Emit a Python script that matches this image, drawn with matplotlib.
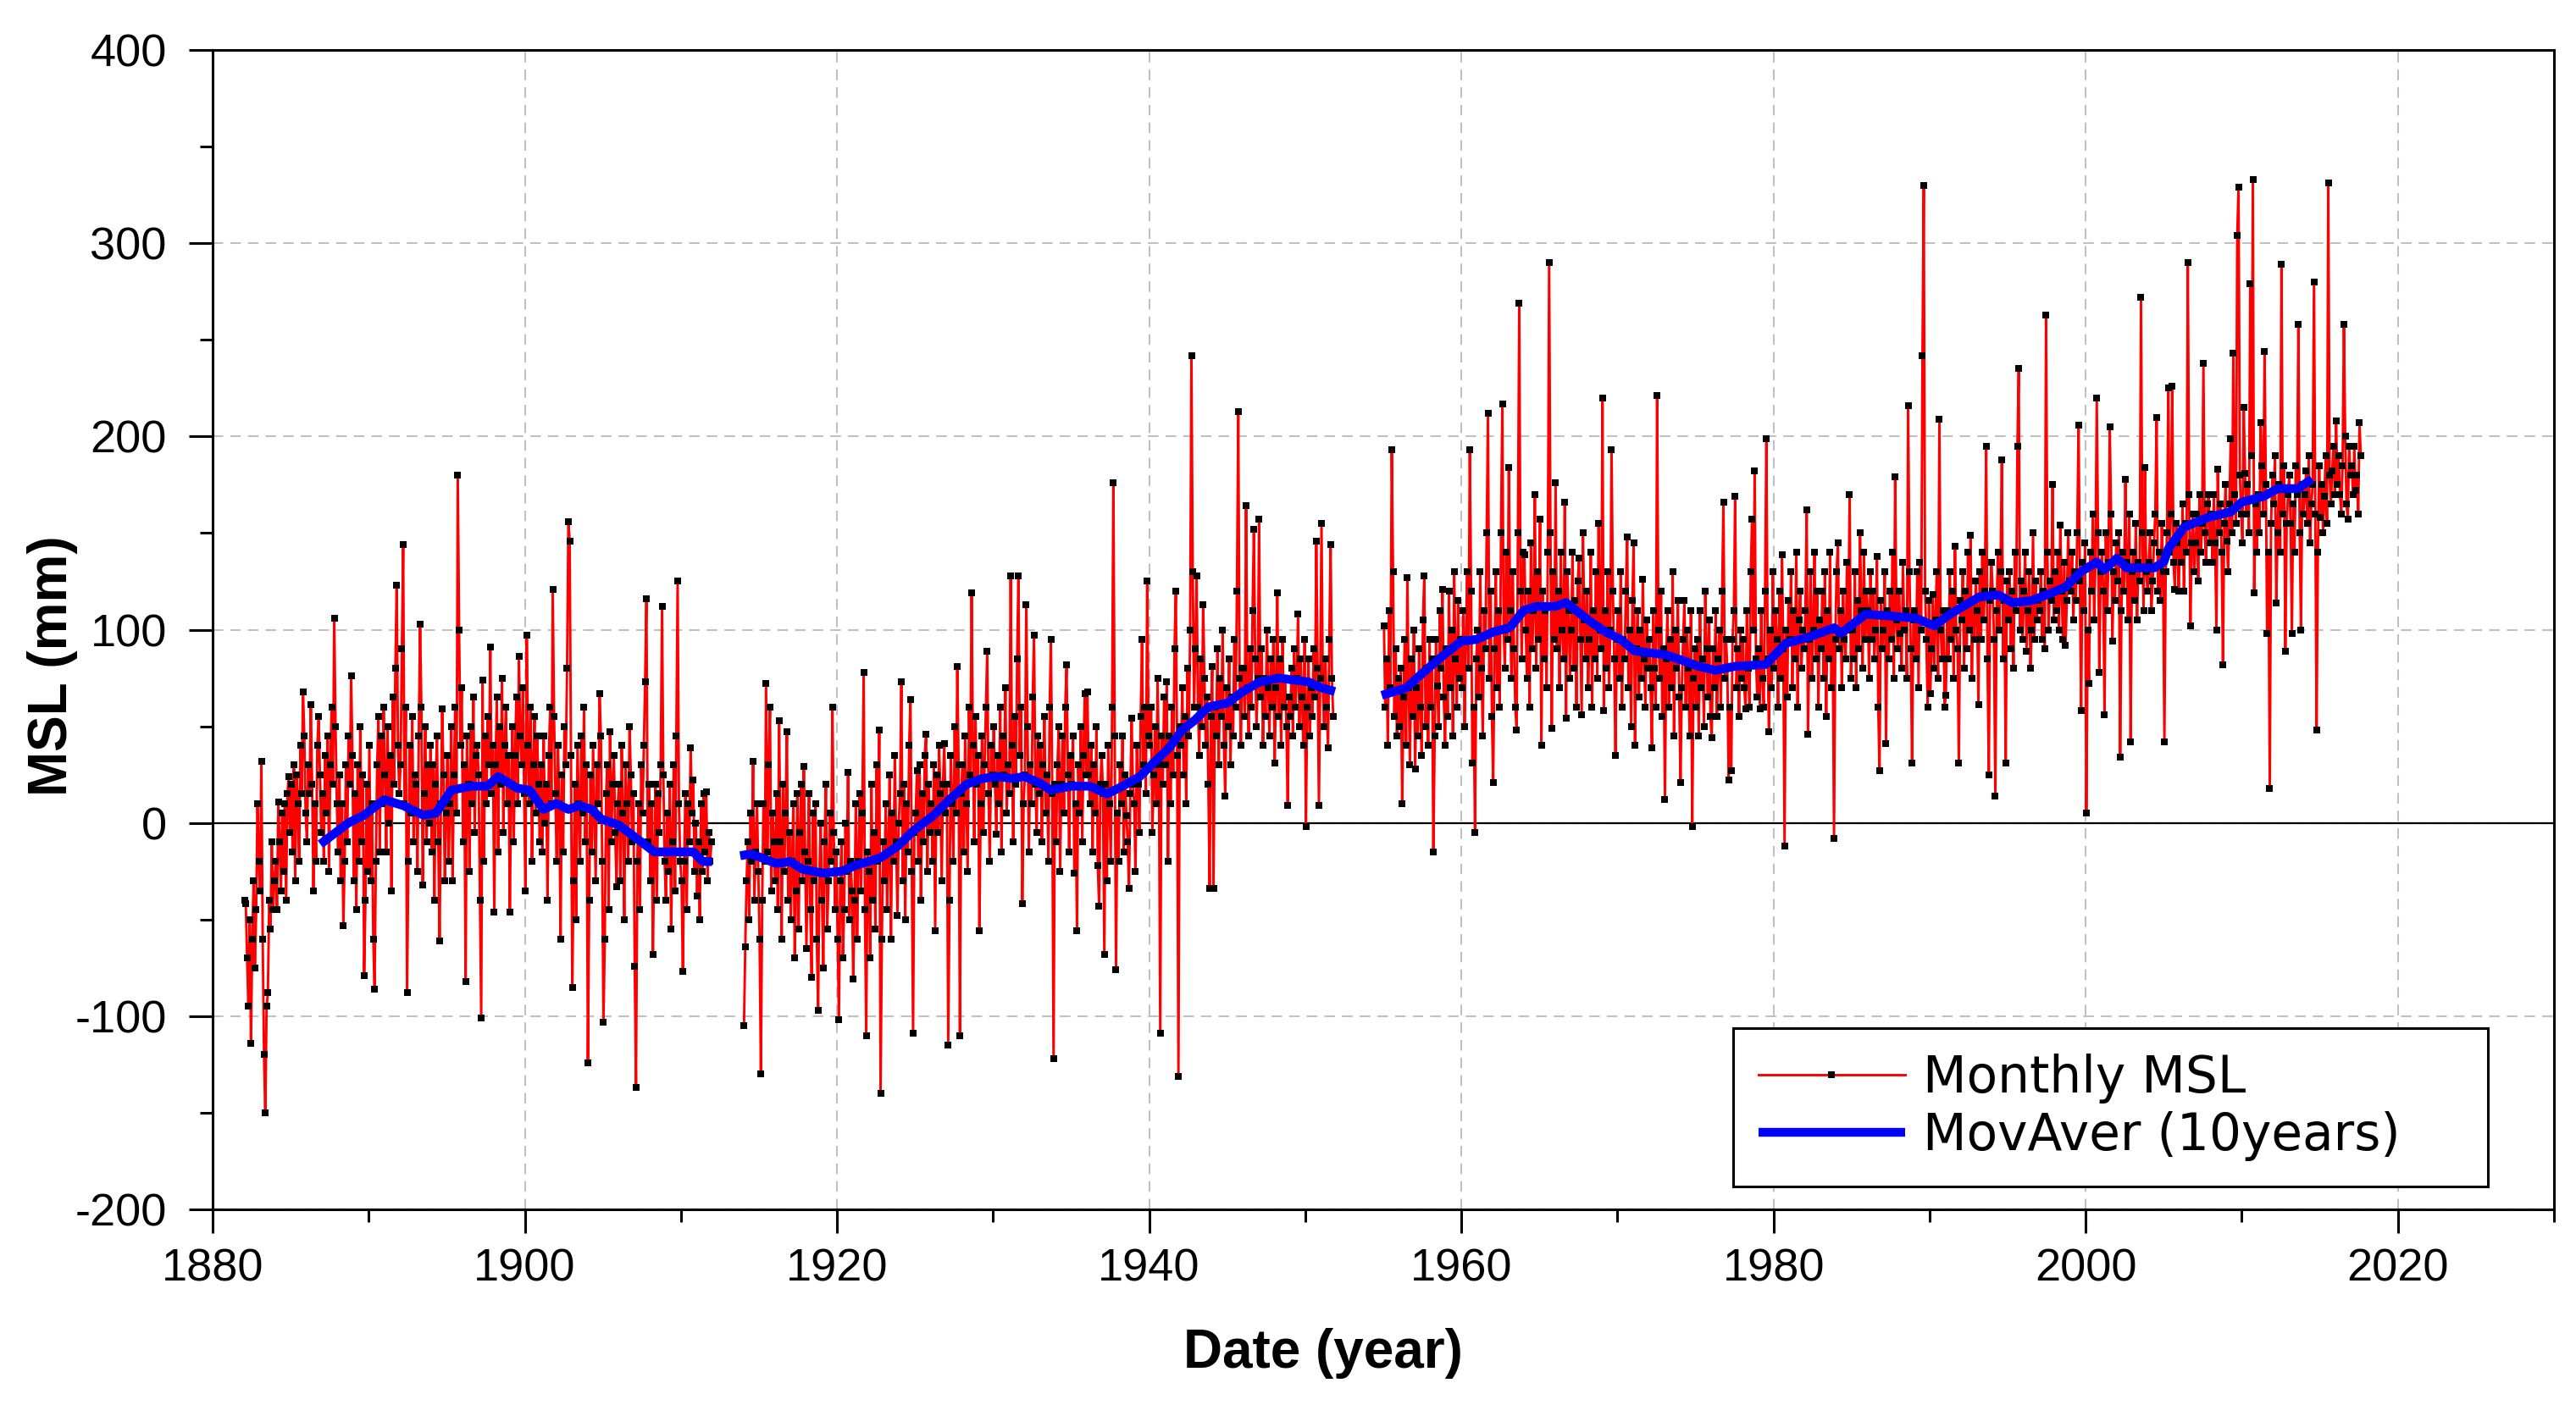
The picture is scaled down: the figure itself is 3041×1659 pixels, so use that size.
import numpy as np
import matplotlib
matplotlib.use("Agg")
import matplotlib.pyplot as plt
from matplotlib.ticker import MultipleLocator

plt.rcParams['font.family'] = ['Liberation Sans', 'DejaVu Sans']
plt.rcParams['axes.unicode_minus'] = False

# monthly mean sea level (mm), one row per year
start_a = 1882
msl_a = [
    -40, -42, -70, -95, -50, -114, -60, -30, -75, -45, 10, -20,   # 1882
    -35, 32, -60, -120, -150, -95, -88, -40, -55, -10, -45, -30,  # 1883
    -20, -45, 11, -10, -35, 5, -25, 10, -40, 15, 24, -5,          # 1884
    20, -15, 30, -30, 25, 10, -20, 40, 15, 68, 45, 5,             # 1885
    -10, 30, 15, 61, 20, -35, 10, -20, 40, 55, 25, -5,            # 1886
    15, -20, 35, 5, 45, -25, 30, 60, 20, 106, 50, 10,             # 1887
    -15, 25, -30, 10, -53, -20, 30, -10, 45, 20, 76, 35,          # 1888
    -30, 15, -45, 30, -20, 50, -10, 25, -79, -40, 20, -25,        # 1889
    40, -30, 10, -60, -86, -20, 30, 55, -15, 45, 10, 60,          # 1890
    25, -15, 50, 0, 35, -35, 65, 20, 80, 123, 40, 15,             # 1891
    30, 90, 144, 10, 60, -88, -20, 40, 5, 55, -10, 25,            # 1892
    20, -25, 45, 103, 60, -32, 15, 50, -10, 30, 0, 40,            # 1893
    -15, 30, -40, 20, 45, -10, -61, 10, 59, 25, -30, 5,           # 1894
    35, -20, 10, 50, -30, 25, 60, 5, 180, 100, 40, 70,            # 1895
    -10, 30, -82, 45, 20, -25, 50, 10, 65, -5, 35, 40,            # 1896
    25, -40, -101, 74, -20, 45, 10, 55, 30, 91, 15, 40,           # 1897
    -46, 30, 65, -15, 50, 20, 75, -5, 40, 60, 10, 35,             # 1898
    -46, 20, 50, -10, 35, 65, 10, 86, 45, 30, 70, 15,             # 1899
    -35, 97, 40, 10, 60, -20, 30, 55, 5, 45, 20, -10,             # 1900
    30, -15, 45, 0, 20, -40, 35, 60, 10, 121, 55, 15,             # 1901
    -20, 40, 10, -60, 25, -15, 50, 30, 80, 156, 146, 35,          # 1902
    -85, -30, 20, -50, 40, 10, -20, 45, 5, 60, -10, 30,           # 1903
    -124, -40, 25, -15, 40, 5, -30, 30, 10, 67, 45, -20,          # 1904
    -103, -60, 15, 30, -45, 47, -10, 20, 35, -5, -33, 10,         # 1905
    20, -30, 40, 5, -50, 30, 10, -20, 50, 25, -10, 15,            # 1906
    -74, -137, -20, 10, -45, 30, 5, 40, 73, 116, -10, 20,         # 1907
    -30, 10, -68, -15, 20, -40, 15, -5, 30, 112, 25, -20,         # 1908
    -40, 5, -25, 20, -55, -10, 30, -35, 45, 125, 10, -20,         # 1909
    -30, -77, -20, 15, -45, 10, -10, 39, 5, 22, -25, 0,           # 1910
    -38, -10, -50, 10, -25, 15, -15, 16, -30, -5, -20, -10,       # 1911
]

start_b = 1914
msl_b = [
    -105, -64, -30, -10, -50, 5, -20, 32, -40, -15, 10, -25,      # 1914
    -60, -130, -40, 10, -20, 72, -15, 30, 60, -35, 5, -10,        # 1915
    -30, 15, -45, 53, -10, -60, 20, -25, 5, 47, -40, -5,          # 1916
    -50, -20, 10, -70, -35, 15, -55, -5, 20, -30, 29, -15,        # 1917
    -65, -20, 15, -45, -80, 5, -30, 10, -60, -97, -25, 0,         # 1918
    -40, -75, -10, 20, -55, -30, 5, -20, 60, -5, -45, -15,        # 1919
    -60, -102, -30, -10, -70, -45, 0, -25, 26, -50, -20, -35,     # 1920
    -81, -40, 10, -60, -20, 15, -35, 5, 78, -45, -110, -15,       # 1921
    -25, -70, 20, -40, -5, -55, 30, -20, 48, -140, -60, -10,      # 1922
    -30, 10, -45, -15, 25, -60, 5, -20, 35, -10, -48, 0,          # 1923
    15, 73, -30, 20, -50, 10, -15, 40, 64, -25, -109, -5,         # 1924
    5, 27, -20, 30, -40, 15, -10, 35, 46, -25, 20, -5,            # 1925
    10, -20, 30, -56, 25, -5, 40, 15, -30, 20, 41, 5,             # 1926
    20, -115, -40, 35, 10, -20, 50, 5, 81, 30, -110, 15,          # 1927
    30, -15, 45, 10, -25, 60, 25, 119, 40, -10, 55, 20,           # 1928
    35, -56, 10, 45, -5, 30, 60, 89, 15, -20, 40, 25,             # 1929
    50, 20, -6, 35, 10, 60, -15, 45, 25, 70, 5, 30,               # 1930
    15, 128, 40, -10, 55, 20, 85, 128, 35, 60, -42, 10,           # 1931
    25, 113, 50, -15, 30, 10, 65, 97, 20, -5, 45, 15,             # 1932
    40, -10, 30, 55, 5, 25, -20, 60, 95, 15, -122, 20,            # 1933
    -10, 30, 50, -25, 20, 45, 5, 60, 82, 25, -15, 35,             # 1934
    20, 45, -26, 10, -56, 30, 5, 50, -10, 35, 67, 25,             # 1935
    68, 25, 10, 40, -15, 30, 5, 50, -22, -43, 20, 35,             # 1936
    15, -68, 20, -30, 40, 10, -20, 60, 176, 45, -76, 5,           # 1937
    -20, 30, 10, 45, -15, 25, 4, -10, -34, 15, 54, 20,            # 1938
    10, -25, 40, 20, -5, 55, 95, 30, 60, 15, 125, 45,             # 1939
    40, 60, -5, 25, 50, 10, 75, 30, -109, 45, 20, 65,             # 1940
    30, 73, -20, 45, 10, 60, 25, 90, 120, 35, -131, 50,           # 1941
    40, 70, 25, 55, 10, 80, 45, 100, 242, 130, 60, 90,            # 1942
    128, 60, 35, 85, 50, 113, 75, 40, 65, 20, -34, 55,            # 1943
    81, -34, 60, 45, 90, 30, 75, 55, 100, 40, 14, 70,             # 1944
    50, 85, 30, 65, 45, 95, 60, 120, 213, 75, 40, 80,             # 1945
    80, 55, 164, 70, 45, 90, 60, 110, 152, 85, 50, 75,            # 1946
    157, 65, 90, 40, 75, 55, 100, 70, 45, 85, 60, 95,             # 1947
    31, 70, 119, 55, 85, 40, 95, 60, 75, 50, 9, 65,               # 1948
    55, 80, 45, 90, 60, 75, 108, 50, 85, 65, 40, 95,              # 1949
    -2, 60, 85, 45, 70, 55, 90, 65, 146, 80, 9, 75,               # 1950
    155, 70, 50, 85, 60, 39, 95, 144, 75, 55,                     # 1951
]

start_c = 1955
msl_c = [
    102, 60, 85, 40, 110, 70, 193, 130, 55, 90, 45, 75,           # 1955
    50, 80, 10, 65, 95, 40, 127, 70, 30, 85, 55, 100,             # 1956
    28, 70, 45, 90, 60, 35, 105, 128, 50, 80, 40, 95,             # 1957
    60, 85, -15, 45, 95, 71, 50, 110, 80, 121, 65, 40,            # 1958
    90, 55, 120, 70, 100, 45, 130, 85, 60, 115, 75, 95,           # 1959
    70, 110, 50, 95, 130, 80, 193, 120, 31, 60, -5, 85,           # 1960
    100, 65, 130, 80, 45, 110, 90, 150, 212, 75, 120, 55,         # 1961
    21, 90, 130, 70, 110, 60, 150, 217, 100, 80, 140, 95,         # 1962
    184, 110, 75, 130, 90, 60, 48, 150, 269, 120, 85, 140,        # 1963
    139, 100, 75, 120, 60, 145, 90, 110, 170, 80, 130, 95,        # 1964
    157, 40, 120, 85, 110, 70, 140, 290, 150, 49, 130, 95,        # 1965
    176, 90, 120, 70, 140, 100, 85, 166, 54, 130, 110, 75,        # 1966
    100, 140, 80, 115, 60, 125, 137, 95, 56, 150, 105, 85,        # 1967
    120, 70, 95, 140, 60, 110, 85, 130, 75, 155, 100, 90,         # 1968
    220, 58, 110, 80, 130, 70, 100, 193, 120, 85, 35, 95,         # 1969
    110, 75, 130, 60, 95, 85, 120, 148, 70, 100, 50, 115,         # 1970
    145, 40, 90, 110, 65, 100, 75, 126, 85, 60, 105, 80,          # 1971
    95, 70, 39, 110, 80, 60, 221, 100, 75, 120, 55, 90,           # 1972
    12, 85, 110, 60, 95, 70, 130, 45, 100, 80, 115, 65,           # 1973
    21, 70, 95, 115, 60, 100, 80, 45, 110, -2, 75, 90,            # 1974
    60, 95, 45, 110, 70, 85, 50, 120, 90, 65, 105, 55,            # 1975
    44, 90, 70, 110, 55, 85, 100, 60, 120, 166, 75, 95,           # 1976
    80, 22, 60, 27, 95, 110, 169, 70, 90, 55, 100, 75,            # 1977
    95, 70, 59, 110, 80, 60, 130, 157, 100, 182, 85, 65,          # 1978
    90, 59, 110, 75, 60, 120, 199, 85, 47, 100, 70, 130,          # 1979
    80, 110, 95, 60, 120, 75, 139, 90, -12, 100, 65, 115,         # 1980
    95, 130, 70, 110, 85, 140, 60, 105, 120, 80, 100, 90,         # 1981
    110, 162, 46, 95, 130, 75, 100, 140, 85, 120, 60, 105,        # 1982
    90, 120, 75, 130, 55, 110, 85, 140, 70, 100, -8, 95,          # 1983
    130, 145, 90, 110, 70, 120, 95, 85, 135, 100, 170, 75,        # 1984
    100, 85, 130, 70, 115, 90, 150, 110, 80, 140, 95, 120,        # 1985
    110, 75, 130, 95, 120, 85, 100, 138, 60, 27, 115, 90,         # 1986
    100, 130, 41, 110, 85, 120, 95, 140, 75, 179, 105, 90,        # 1987
    120, 98, 80, 135, 100, 110, 75, 216, 130, 90, 31, 105,        # 1988
    110, 85, 130, 70, 135, 100, 242, 330, 120, 95, 60, 115,       # 1989
    67, 90, 118, 80, 105, 130, 75, 209, 100, 85, 110, 60,         # 1990
    66, 110, 85, 130, 95, 120, 75, 143, 100, 90, 31, 115,         # 1991
    105, 130, 80, 120, 90, 140, 100, 149, 75, 115, 95, 125,       # 1992
    110, 61, 130, 95, 140, 105, 120, 195, 85, 25, 115, 135,       # 1993
    120, 95, 14, 110, 140, 100, 130, 188, 85, 115, 31, 125,       # 1994
    105, 130, 90, 120, 80, 140, 110, 195, 235, 100, 125, 95,      # 1995
    120, 140, 89, 110, 130, 80, 100, 150, 95, 125, 105, 115,      # 1996
    110, 130, 95, 120, 90, 263, 140, 100, 125, 115, 175, 105,     # 1997
    130, 110, 140, 100, 154, 120, 95, 135, 92, 115, 150, 125,     # 1998
    120, 140, 105, 130, 115, 150, 206, 125, 58, 135, 110, 145,    # 1999
    5, 100, 72, 140, 120, 160, 105, 135, 220, 150, 78, 130,       # 2000
    140, 120, 56, 150, 110, 135, 205, 160, 94, 130, 115, 145,     # 2001
    125, 150, 34, 110, 140, 120, 178, 135, 105, 160, 42, 130,     # 2002
    140, 115, 155, 105, 135, 125, 272, 150, 110, 184, 130, 120,   # 2003
    135, 150, 110, 125, 145, 160, 210, 120, 140, 115, 155, 130,   # 2004
    42, 130, 150, 225, 140, 160, 226, 135, 121, 155, 145, 120,    # 2005
    150, 135, 165, 120, 155, 140, 290, 170, 102, 145, 160, 130,   # 2006
    145, 160, 125, 170, 140, 155, 238, 150, 135, 165, 170, 145,   # 2007
    160, 135, 170, 145, 100, 183, 150, 165, 140, 82, 155, 175,    # 2008
    146, 130, 165, 199, 150, 243, 170, 155, 304, 329, 180, 160,   # 2009
    145, 215, 181, 160, 175, 150, 279, 190, 333, 119, 165, 140,   # 2010
    170, 150, 207, 185, 160, 244, 175, 98, 140, 18, 155, 180,     # 2011
    165, 190, 114, 150, 175, 140, 289, 160, 185, 89, 155, 170,    # 2012
    180, 155, 98, 165, 140, 185, 170, 258, 150, 100, 175, 160,    # 2013
    170, 182, 155, 190, 145, 165, 175, 280, 160, 48, 140, 185,    # 2014
    158, 175, 150, 169, 190, 155, 331, 180, 165, 182, 195, 170,   # 2015
    208, 175, 190, 170, 160, 185, 258, 200, 165, 157, 195, 180,   # 2016
    185, 170, 195, 172, 180, 160, 207, 190,                       # 2017
]

# 10-year moving average as drawn (year, mm)
ma_a_year = [1886.9, 1888.7, 1889.7, 1891.0, 1892.2, 1893.5, 1894.3, 1895.3, 1896.6,
             1897.6, 1898.3, 1899.5, 1900.3, 1901.2, 1902.0, 1902.8, 1903.5, 1904.3,
             1904.9, 1906.0, 1907.0, 1908.3, 1909.5, 1910.8, 1911.4, 1912.0]
ma_a_val = [-11, 0, 4, 12, 9, 4, 5, 17, 19, 19, 24, 18, 17, 7, 10, 7, 9, 7,
            2, -1, -7, -15, -15, -15, -20, -20]

ma_b_year = [1913.8, 1914.5, 1916.1, 1917.0, 1917.8, 1919.1, 1920.3, 1921.2, 1922.0,
             1922.8, 1923.9, 1924.9, 1926.2, 1927.2, 1928.3, 1929.3, 1930.3, 1931.2,
             1932.0, 1932.9, 1933.7, 1935.0, 1936.2, 1937.3, 1938.3, 1939.4, 1940.4,
             1941.3, 1942.1, 1942.9, 1943.8, 1945.0, 1946.0, 1947.1, 1948.3, 1949.2,
             1950.2, 1951.0, 1951.9]
ma_b_val = [-17, -16, -21, -20, -24, -26, -25, -22, -20, -18, -12, -4, 4, 12, 20, 23,
            24, 23, 24, 21, 17, 19, 19, 15, 19, 24, 32, 39, 48, 53, 60, 62, 68, 73,
            75, 74, 73, 70, 68]

ma_c_year = [1954.9, 1956.5, 1957.3, 1958.3, 1959.2, 1960.0, 1961.0, 1962.1, 1963.1,
             1964.0, 1964.8, 1966.0, 1966.7, 1967.5, 1968.3, 1969.2, 1970.2, 1971.1,
             1972.1, 1973.1, 1974.2, 1975.2, 1976.3, 1977.5, 1979.5, 1980.8, 1982.2,
             1983.9, 1984.3, 1985.9, 1987.6, 1989.1, 1990.3, 1991.3, 1993.2, 1994.4,
             1995.3, 1996.5, 1997.8, 1998.7, 1999.7, 2000.7, 2001.2, 2002.0, 2002.6,
             2004.4, 2005.0, 2005.3, 2006.3, 2006.9, 2007.8, 2009.3, 2010.0, 2011.4,
             2012.3, 2013.6, 2014.5]
ma_c_val = [66, 70, 76, 83, 89, 94, 95, 99, 101, 110, 112, 112, 114, 109, 104, 99,
            95, 89, 88, 87, 84, 81, 79, 81, 82, 93, 96, 101, 98, 108, 107, 106, 102,
            108, 117, 118, 114, 115, 119, 122, 130, 135, 131, 137, 132, 132, 135, 142,
            153, 155, 158, 161, 166, 169, 173, 173, 178]

fig = plt.figure(figsize=(30.41, 16.59), dpi=100)
ax = fig.add_axes([251 / 3041, 1 - 1428 / 1659, 2764 / 3041, 1369 / 1659])

ax.axhline(0, color='black', lw=1.6, zorder=1)

red_kw = dict(color='red', lw=2.1, marker='s', ms=5.5, mfc='black', mec='black',
              mew=0, zorder=2)
line_red = None
for start, vals in [(start_a, msl_a), (start_b, msl_b), (start_c, msl_c)]:
    x = start + (np.arange(len(vals)) + 0.5) / 12
    line_red, = ax.plot(x, vals, **red_kw)

line_blue = None
for yrs, vals in [(ma_a_year, ma_a_val), (ma_b_year, ma_b_val), (ma_c_year, ma_c_val)]:
    line_blue, = ax.plot(yrs, vals, color='blue', lw=7.5, solid_capstyle='butt',
                         zorder=3)

ax.set_xlim(1880, 2030)
ax.set_ylim(-200, 400)
ax.set_xticks(np.arange(1880, 2021, 20))
ax.set_yticks(np.arange(-200, 401, 100))
ax.xaxis.set_minor_locator(MultipleLocator(10))
ax.yaxis.set_minor_locator(MultipleLocator(50))
ax.set_axisbelow(True)
ax.grid(True, which='major', color='#c0c0c0', lw=1.5, ls=(0, (6, 4)))

for s in ax.spines.values():
    s.set_linewidth(2.2)
ax.tick_params(which='both', direction='out', top=False, right=False, width=2.2,
               labelsize=39)
ax.tick_params(which='major', length=20)
ax.tick_params(which='minor', length=11)
ax.tick_params(axis='x', pad=13)
ax.tick_params(axis='y', pad=19)

ax.set_xlabel('Date (year)', fontsize=46, fontweight='bold')
ax.set_ylabel('MSL (mm)', fontsize=46, fontweight='bold')
ax.xaxis.label.set_va('baseline')
ax.yaxis.label.set_va('baseline')
ax.xaxis.set_label_coords(0.4743, -0.1366)
ax.yaxis.set_label_coords(-0.0622, 0.4686)

leg = ax.legend([line_red, line_blue], ['Monthly MSL', 'MovAver (10years)'],
                loc='lower left', bbox_to_anchor=(0.6494, 0.0197, 0.3224, 0.1352),
                mode='expand', borderaxespad=0, borderpad=0.5, handlelength=2.9,
                handletextpad=0.35, labelspacing=0.15, fancybox=False,
                edgecolor='black', framealpha=1,
                prop=dict(family='DejaVu Sans', size=43))
leg.get_frame().set_linewidth(2.2)

fig.savefig('out.png', dpi=100)
